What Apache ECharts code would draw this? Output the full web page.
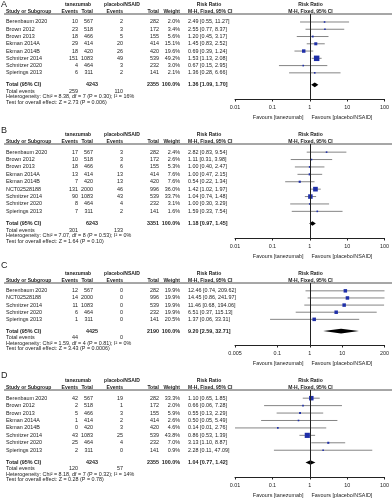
<!DOCTYPE html>
<html>
<head>
<meta charset="utf-8">
<script src="https://cdn.jsdelivr.net/npm/echarts@6/dist/echarts.min.js"></script>
<style>
html, body { margin: 0; padding: 0; background: #fff; }
#chart { width: 392px; height: 500px; }
</style>
</head>
<body>
<div id="chart"></div>
<script>
// ---- panel A ----
const studiesA = ['Berenbaum 2020', 'Brown 2012', 'Brown 2013', 'Ekman 2014A', 'Ekman 2014B', 'Schnitzer 2014', 'Schnitzer 2020', 'Spierings 2013'];
const tanEventsA = [10, 23, 18, 29, 18, 151, 4, 6];
const tanTotalA = [567, 518, 466, 414, 420, 1083, 464, 311];
const plaEventsA = [2, 3, 5, 20, 26, 49, 3, 2];
const plaTotalA = [282, 172, 155, 414, 420, 539, 232, 141];
const weightA = [2.0, 3.4, 5.6, 15.1, 19.6, 49.2, 3.0, 2.1];
const rrA = [2.49, 2.55, 1.20, 1.45, 0.69, 1.53, 0.67, 1.36];
const lowA = [0.55, 0.77, 0.45, 0.83, 0.39, 1.13, 0.15, 0.28];
const highA = [11.27, 8.37, 3.17, 2.52, 1.24, 2.08, 2.95, 6.66];
const totalA = [4243, 2355, 1.36, 1.09, 1.70];
const eventsA = [259, 110];
const hetA = 'Heterogeneity: Chi² = 8.38, df = 7 (P = 0.30); I² = 16%';
const testA = 'Test for overall effect: Z = 2.73 (P = 0.006)';

// ---- panel B ----
const studiesB = ['Berenbaum 2020', 'Brown 2012', 'Brown 2013', 'Ekman 2014A', 'Ekman 2014B', 'NCT02528188', 'Schnitzer 2014', 'Schnitzer 2020', 'Spierings 2013'];
const tanEventsB = [17, 10, 18, 13, 7, 131, 90, 8, 7];
const tanTotalB = [567, 518, 466, 414, 420, 2000, 1083, 464, 311];
const plaEventsB = [3, 3, 6, 13, 13, 46, 43, 4, 2];
const plaTotalB = [282, 172, 155, 414, 420, 996, 539, 232, 141];
const weightB = [2.4, 2.6, 5.3, 7.6, 7.6, 36.0, 33.7, 3.1, 1.6];
const rrB = [2.82, 1.11, 1.00, 1.00, 0.54, 1.42, 1.04, 1.00, 1.59];
const lowB = [0.83, 0.31, 0.40, 0.47, 0.22, 1.02, 0.74, 0.30, 0.33];
const highB = [9.54, 3.98, 2.47, 2.15, 1.34, 1.97, 1.48, 3.29, 7.54];
const totalB = [6243, 3351, 1.18, 0.97, 1.45];
const eventsB = [301, 133];
const hetB = 'Heterogeneity: Chi² = 7.07, df = 8 (P = 0.53); I² = 0%';
const testB = 'Test for overall effect: Z = 1.64 (P = 0.10)';

// ---- panel C ----
const studiesC = ['Berenbaum 2020', 'NCT02528188', 'Schnitzer 2014', 'Schnitzer 2020', 'Spierings 2013'];
const tanEventsC = [12, 14, 11, 6, 1];
const tanTotalC = [567, 2000, 1083, 464, 311];
const plaEventsC = [0, 0, 0, 0, 0];
const plaTotalC = [282, 996, 539, 232, 141];
const weightC = [19.9, 19.9, 19.9, 19.9, 20.5];
const rrC = [12.46, 14.45, 11.46, 6.51, 1.37];
const lowC = [0.74, 0.86, 0.68, 0.37, 0.06];
const highC = [209.62, 241.97, 194.06, 115.13, 33.31];
const totalC = [4425, 2190, 9.20, 2.59, 32.71];
const eventsC = [44, 0];
const hetC = 'Heterogeneity: Chi² = 1.59, df = 4 (P = 0.81); I² = 0%';
const testC = 'Test for overall effect: Z = 3.43 (P = 0.0006)';

// ---- panel D ----
const studiesD = ['Berenbaum 2020', 'Brown 2012', 'Brown 2013', 'Ekman 2014A', 'Ekman 2014B', 'Schnitzer 2014', 'Schnitzer 2020', 'Spierings 2013'];
const tanEventsD = [42, 2, 5, 1, 0, 43, 25, 2];
const tanTotalD = [567, 518, 466, 414, 420, 1083, 464, 311];
const plaEventsD = [19, 1, 3, 2, 3, 25, 4, 0];
const plaTotalD = [282, 172, 155, 414, 420, 539, 232, 141];
const weightD = [33.3, 2.0, 5.9, 2.6, 4.6, 43.8, 7.0, 0.9];
const rrD = [1.10, 0.66, 0.55, 0.50, 0.14, 0.86, 3.13, 2.28];
const lowD = [0.65, 0.06, 0.13, 0.05, 0.01, 0.53, 1.10, 0.11];
const highD = [1.85, 7.28, 2.29, 5.49, 2.76, 1.39, 8.87, 47.09];
const totalD = [4243, 2355, 1.04, 0.77, 1.42];
const eventsD = [120, 57];
const hetD = 'Heterogeneity: Chi² = 8.18, df = 7 (P = 0.32); I² = 14%';
const testD = 'Test for overall effect: Z = 0.28 (P = 0.78)';

// axis ticks
const ticksStd = [0.01, 0.1, 1, 10, 100];
const tickLabelsStd = ['0.01', '0.1', '1', '10', '100'];
const ticksC = [0.005, 0.1, 1, 10, 200];
const tickLabelsC = ['0.005', '0.1', '1', '10', '200'];

const panels = [
    {letter: 'A', studies: studiesA, tanE: tanEventsA, tanT: tanTotalA, plaE: plaEventsA, plaT: plaTotalA, w: weightA, rr: rrA, lo: lowA, hi: highA, total: totalA, events: eventsA, het: hetA, test: testA, ticks: ticksStd, tickLabels: tickLabelsStd, letterY: 4, lineY: 14, axisY: 99},
    {letter: 'B', studies: studiesB, tanE: tanEventsB, tanT: tanTotalB, plaE: plaEventsB, plaT: plaTotalB, w: weightB, rr: rrB, lo: lowB, hi: highB, total: totalB, events: eventsB, het: hetB, test: testB, ticks: ticksStd, tickLabels: tickLabelsStd, letterY: 130, lineY: 144, axisY: 238},
    {letter: 'C', studies: studiesC, tanE: tanEventsC, tanT: tanTotalC, plaE: plaEventsC, plaT: plaTotalC, w: weightC, rr: rrC, lo: lowC, hi: highC, total: totalC, events: eventsC, het: hetC, test: testC, ticks: ticksC, tickLabels: tickLabelsC, letterY: 265, lineY: 283, axisY: 345},
    {letter: 'D', studies: studiesD, tanE: tanEventsD, tanT: tanTotalD, plaE: plaEventsD, plaT: plaTotalD, w: weightD, rr: rrD, lo: lowD, hi: highD, total: totalD, events: eventsD, het: hetD, test: testD, ticks: ticksStd, tickLabels: tickLabelsStd, letterY: 375, lineY: 390, axisY: 477}
];

const FAM = '"Liberation Sans", Arial, sans-serif';
const FS = 5.4;      // body text
const FSH = 5.0;     // bold column headers
const TXT = '#222';
const SQ = '#1f2fa8';
const PLOT_L = 235, PLOT_R = 386;
// text column x positions
const X_NAME = 6, X_TE = 78, X_TT = 93, X_PE = 123, X_PT = 159, X_W = 180, X_RR = 188;

function fmt2(v) { return v.toFixed(2); }
function rrText(r, l, h) { return fmt2(r) + ' [' + fmt2(l) + ', ' + fmt2(h) + ']'; }

function txt(x, y, s, align, bold, size) {
    return {
        type: 'text', x: x, y: y, silent: true,
        style: {text: s, fill: TXT, font: (bold ? 'bold ' : '') + (size || FS) + 'px ' + FAM, textAlign: align || 'left', textVerticalAlign: 'middle'}
    };
}

const grids = [], xAxes = [], yAxes = [], series = [], graphics = [];

panels.forEach(function (p, k) {
    const n = p.studies.length;
    const xMin = p.ticks[0], xMax = p.ticks[p.ticks.length - 1];
    grids.push({left: PLOT_L, width: PLOT_R - PLOT_L, top: p.lineY, height: p.axisY - p.lineY});
    xAxes.push({
        type: 'log', logBase: 10, gridIndex: k, min: xMin, max: xMax,
        axisLine: {show: true, onZero: false, lineStyle: {color: '#222', width: 1}},
        axisTick: {show: true, length: 2.5, customValues: p.ticks, lineStyle: {color: '#222', width: 1}},
        axisLabel: {
            show: true, customValues: p.ticks, fontSize: FS, fontFamily: FAM, color: TXT, margin: 6,
            formatter: function (v) {
                const idx = p.ticks.findIndex(function (t) { return Math.abs(Math.log10(t) - Math.log10(v)) < 1e-6; });
                return idx >= 0 ? p.tickLabels[idx] : '';
            }
        },
        splitLine: {show: false}, minorTick: {show: false}
    });
    yAxes.push({type: 'value', gridIndex: k, inverse: true, min: -0.1, max: n + 3.6, show: false});

    const totRow = n + 1.65;

    // study rows: CI line, weighted square and table text
    series.push({
        type: 'custom', xAxisIndex: k, yAxisIndex: k, clip: false, silent: true,
        data: p.studies.map(function (s, i) { return [i + 1, p.rr[i], p.lo[i], p.hi[i], p.w[i], i]; }),
        encode: {x: [1, 2, 3], y: 0},
        renderItem: function (params, api) {
            const i = api.value(5);
            const y = api.coord([1, api.value(0)])[1];
            const lo = Math.max(api.value(2), xMin), hi = Math.min(api.value(3), xMax);
            const x0 = api.coord([lo, 1])[0], x1 = api.coord([hi, 1])[0];
            const xc = api.coord([api.value(1), 1])[0];
            const s = Math.max(1.6, 0.78 * Math.sqrt(api.value(4)));
            return {
                type: 'group',
                children: [
                    {type: 'line', shape: {x1: x0, y1: y, x2: x1, y2: y}, style: {stroke: '#333', lineWidth: 0.6}},
                    {type: 'rect', shape: {x: xc - s / 2, y: y - s / 2, width: s, height: s}, style: {fill: SQ}},
                    txt(X_NAME, y, p.studies[i], 'left'),
                    txt(X_TE, y, String(p.tanE[i]), 'right'),
                    txt(X_TT, y, String(p.tanT[i]), 'right'),
                    txt(X_PE, y, String(p.plaE[i]), 'right'),
                    txt(X_PT, y, String(p.plaT[i]), 'right'),
                    txt(X_W, y, p.w[i].toFixed(1) + '%', 'right'),
                    txt(X_RR, y, rrText(p.rr[i], p.lo[i], p.hi[i]), 'left')
                ]
            };
        },
        markLine: {
            silent: true, symbol: 'none', label: {show: false},
            lineStyle: {color: '#222', width: 1, type: 'solid'},
            data: [{xAxis: 1}]
        }
    });

    // pooled estimate: diamond, total row and footer lines
    series.push({
        type: 'custom', xAxisIndex: k, yAxisIndex: k, clip: false, silent: true,
        data: [[totRow, p.total[2], p.total[3], p.total[4]]],
        encode: {x: [1, 2, 3], y: 0},
        renderItem: function (params, api) {
            const y = api.coord([1, api.value(0)])[1];
            const xl = api.coord([api.value(2), 1])[0];
            const xr = api.coord([api.value(3), 1])[0];
            const xc = api.coord([api.value(1), 1])[0];
            const h = 2.3;
            return {
                type: 'group',
                children: [
                    {type: 'polygon', shape: {points: [[xl, y], [xc, y - h], [xr, y], [xc, y + h]]}, style: {fill: '#000'}},
                    txt(X_NAME, y, 'Total (95% CI)', 'left', true),
                    txt(X_TT + 5, y, String(p.total[0]), 'right', true),
                    txt(X_PT, y, String(p.total[1]), 'right', true),
                    txt(X_W, y, '100.0%', 'right', true),
                    txt(X_RR, y, rrText(p.total[2], p.total[3], p.total[4]), 'left', true),
                    txt(X_NAME, y + 6.5, 'Total events', 'left'),
                    txt(X_TE, y + 6.5, String(p.events[0]), 'right'),
                    txt(X_PE, y + 6.5, String(p.events[1]), 'right'),
                    txt(X_NAME, y + 12, p.het, 'left'),
                    txt(X_NAME, y + 17.5, p.test, 'left')
                ]
            };
        }
    });

    // headers, rule, favours labels
    const xOne = PLOT_L + (PLOT_R - PLOT_L) * (0 - Math.log10(xMin)) / (Math.log10(xMax) - Math.log10(xMin));
    const h1 = p.lineY - 9, h2 = p.lineY - 2.6;
    graphics.push(
        {type: 'text', left: 1, top: p.letterY - 4, style: {text: p.letter, fill: TXT, font: '9px ' + FAM}},
        {type: 'line', shape: {x1: 4, y1: p.lineY, x2: 392, y2: p.lineY}, style: {stroke: '#222', lineWidth: 0.8}},
        txt(78, h1, 'tanezumab', 'center', true, FSH),
        txt(122, h1, 'placebo/NSAID', 'center', true, FSH),
        txt(209, h1, 'Risk Ratio', 'center', true, FSH),
        txt((PLOT_L + PLOT_R) / 2, h1, 'Risk Ratio', 'center', true, FSH),
        txt(X_NAME, h2, 'Study or Subgroup', 'left', true, FSH),
        txt(X_TE, h2, 'Events', 'right', true, FSH),
        txt(X_TT, h2, 'Total', 'right', true, FSH),
        txt(X_PE, h2, 'Events', 'right', true, FSH),
        txt(X_PT, h2, 'Total', 'right', true, FSH),
        txt(X_W, h2, 'Weight', 'right', true, FSH),
        txt(X_RR, h2, 'M-H, Fixed, 95% CI', 'left', true, FSH),
        txt((PLOT_L + PLOT_R) / 2, h2, 'M-H, Fixed, 95% CI', 'center', true, FSH),
        txt(xOne - 7, p.axisY + 18.5, 'Favours [tanezumab]', 'right'),
        txt(xOne + 1, p.axisY + 18.5, 'Favours [placebo/NSAID]', 'left')
    );
});

const chart = echarts.init(document.getElementById('chart'), null, {renderer: 'canvas'});
chart.setOption({
    animation: false,
    backgroundColor: '#fff',
    grid: grids,
    xAxis: xAxes,
    yAxis: yAxes,
    series: series,
    graphic: graphics
});
</script>
</body>
</html>
